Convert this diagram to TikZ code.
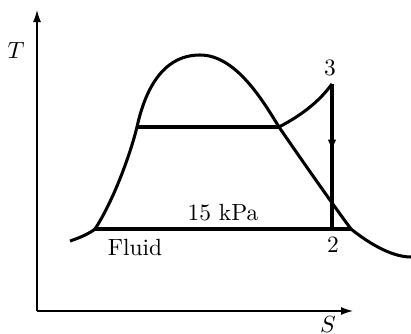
\documentclass[tikz,border=0pt]{standalone}
\usepackage{tikz}
\usetikzlibrary{arrows.meta}

\begin{document}
\begin{tikzpicture}[
  x=0.015cm, y=-0.015cm,
  >={Latex[length=1.8mm, width=1.2mm]},
  axis/.style={line width=0.6pt},
  curve/.style={line width=1.3pt, line join=round},
  lab/.style={font=\normalsize, inner sep=1pt}
]
\useasboundingbox (0,0) rectangle (411,334);
% axes
\coordinate (O) at (37,311);
\coordinate (Ttip) at (37,10);
\coordinate (Stip) at (353,311);
\draw[axis, ->] (O) -- (Ttip);
\draw[axis, ->] (O) -- (Stip);
\node[lab] (Tlab) at (16,50) {$T$};
\node[lab] (Slab) at (328,324) {$S$};
% the saturation dome
\coordinate (f1) at (95,229);
\coordinate (f2) at (137,127);
\coordinate (top) at (200,55);
\coordinate (g1) at (279,127);
\coordinate (g2) at (351,229);
\draw[curve] (70,241) .. controls (82,237) and (90,233) .. (f1)
  .. controls (112,203) and (129,159) .. (f2)
  .. controls (144,95) and (160,55) .. (top)
  .. controls (236,55) and (263,101) .. (g1)
  .. controls (303,162) and (336,209) .. (g2)
  .. controls (366,241) and (390,257) .. (411,257);
% the cycle
\coordinate (p3) at (332,84);
\coordinate (pm) at (332,151);
\coordinate (p2) at (332,229);
\draw[curve] (f2) -- (g1);
\draw[curve] (g1) .. controls (300,116) and (318,103) .. (p3);
\draw[curve] (p3) -- (p2);
\draw[curve, -{Latex[length=1.7mm, width=1.3mm]}] (p3) -- (pm);
\draw[curve] (f1) -- (g2);
% labels
\node[lab] (n3) at (330,68) {3};
\node[lab] (n2) at (333,245) {2};
\node[lab] (pres) at (223,213) {15 kPa};
\node[lab] (fluid) at (135,247) {Fluid};
\end{tikzpicture}
\end{document}
